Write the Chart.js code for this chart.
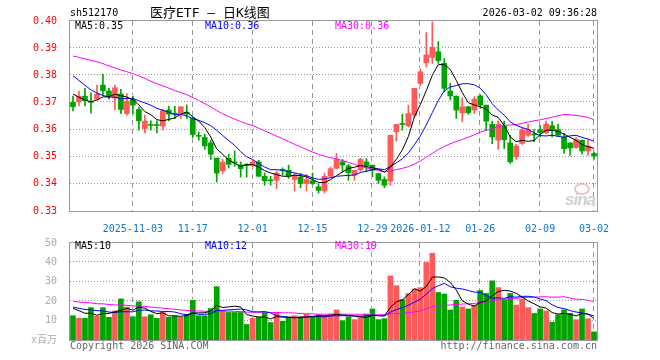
<!DOCTYPE html>
<html>
<head>
<meta charset="utf-8">
<title>医疗ETF 日K线图</title>
<script src="https://cdn.jsdelivr.net/npm/chart.js@4.4.1/dist/chart.umd.min.js"></script>
<style>
  html, body { margin: 0; padding: 0; background: #fff; }
  #wrap { position: relative; width: 660px; height: 360px; overflow: hidden;
          font-family: "DejaVu Sans Mono", "Noto Sans CJK SC", monospace; font-size: 10px; line-height: 12px; }
  #wrap canvas { position: absolute; left: 0; }
  #priceChart { top: 0; }
  #volChart   { top: 232px; }
  .txt { position: absolute; white-space: nowrap; }
  #code   { left: 70px; top: 7px; color: #000; }
  #title  { left: 150px; top: 5px; font-size: 13px; line-height: 15px; color: #000; }
  #stamp  { right: 63px; top: 7px; color: #000; }
  .ma5  { color: #000; }
  .ma10 { color: #0000ff; }
  .ma30 { color: #ff00ff; }
  #copy { left: 70px; top: 340px; color: #666; }
  #url  { right: 63px; top: 340px; color: #666; }
  #sina { left: 565px; top: 190px; font: italic bold 17px "Liberation Sans", sans-serif; color: #cfcfcf; letter-spacing: -1px; }
  #eye  { position: absolute; left: 574px; top: 183px; width: 12px; height: 8px; border: 2px solid rgba(235,140,140,0.55); border-radius: 50%; }
</style>
</head>
<body>
<div id="wrap">
  <canvas id="priceChart" width="660" height="232"></canvas>
  <canvas id="volChart" width="660" height="128"></canvas>

  <div class="txt" id="code">sh512170</div>
  <div class="txt" id="title">医疗ETF — 日K线图</div>
  <div class="txt" id="stamp">2026-03-02 09:36:28</div>

  <div class="txt ma5"  id="pMa5"  style="left:75px;top:20px"></div>
  <div class="txt ma10" id="pMa10" style="left:205px;top:20px"></div>
  <div class="txt ma30" id="pMa30" style="left:335px;top:20px"></div>

  <div class="txt ma5"  id="vMa5"  style="left:75px;top:240px"></div>
  <div class="txt ma10" id="vMa10" style="left:205px;top:240px"></div>
  <div class="txt ma30" id="vMa30" style="left:335px;top:240px"></div>

  <div id="eye"></div>
  <div class="txt" id="sina">sina</div>

  <div class="txt" id="copy">Copyright 2026 SINA.COM</div>
  <div class="txt" id="url">http://finance.sina.com.cn</div>
</div>

<script>
// ── Data ──────────────────────────────────────────────────────────────────────
const dates = [
  "2025-10-20","2025-10-21","2025-10-22","2025-10-23","2025-10-24",
  "2025-10-27","2025-10-28","2025-10-29","2025-10-30","2025-10-31",
  "2025-11-03","2025-11-04","2025-11-05","2025-11-06","2025-11-07",
  "2025-11-10","2025-11-11","2025-11-12","2025-11-13","2025-11-14",
  "2025-11-17","2025-11-18","2025-11-19","2025-11-20","2025-11-21",
  "2025-11-24","2025-11-25","2025-11-26","2025-11-27","2025-11-28",
  "2025-12-01","2025-12-02","2025-12-03","2025-12-04","2025-12-05",
  "2025-12-08","2025-12-09","2025-12-10","2025-12-11","2025-12-12",
  "2025-12-15","2025-12-16","2025-12-17","2025-12-18","2025-12-19",
  "2025-12-22","2025-12-23","2025-12-24","2025-12-25","2025-12-26",
  "2025-12-29","2025-12-30","2025-12-31",
  "2026-01-05","2026-01-06","2026-01-07","2026-01-08","2026-01-09",
  "2026-01-12","2026-01-13","2026-01-14","2026-01-15","2026-01-16",
  "2026-01-19","2026-01-20","2026-01-21","2026-01-22","2026-01-23",
  "2026-01-26","2026-01-27","2026-01-28","2026-01-29","2026-01-30",
  "2026-02-02","2026-02-03","2026-02-04","2026-02-05","2026-02-06",
  "2026-02-09","2026-02-10","2026-02-11","2026-02-12","2026-02-13",
  "2026-02-24","2026-02-25","2026-02-26","2026-02-27",
  "2026-03-02",
];

const openPx = [
  0.3701,0.3702,0.3723,0.3703,0.3712,0.3764,0.3742,0.3716,0.3731,0.3659,
  0.3711,0.3674,0.3604,0.3617,0.3617,0.3613,0.3672,0.3658,0.3657,0.3664,
  0.3641,0.3577,0.3571,0.3551,0.3495,0.3448,0.3494,0.3479,0.3469,0.3469,
  0.3469,0.3481,0.3428,0.3412,0.3413,0.3451,0.3450,0.3416,0.3425,0.3401,
  0.3411,0.3389,0.3374,0.3428,0.3457,0.3481,0.3466,0.3432,0.3452,0.3481,
  0.3469,0.3438,0.3416,0.3410,0.3592,0.3620,0.3614,0.3653,0.3770,0.3846,
  0.3866,0.3887,0.3844,0.3742,0.3723,0.3662,0.3684,0.3672,0.3724,0.3690,
  0.3619,0.3561,0.3613,0.3551,0.3500,0.3549,0.3579,0.3581,0.3600,0.3588,
  0.3614,0.3600,0.3573,0.3551,0.3534,0.3561,0.3521,0.3512,
];
const highPx = [
  0.3723,0.3742,0.3752,0.3735,0.3764,0.3804,0.3752,0.3764,0.3748,0.3733,
  0.3723,0.3683,0.3653,0.3632,0.3632,0.3674,0.3686,0.3686,0.3684,0.3690,
  0.3645,0.3591,0.3583,0.3561,0.3495,0.3490,0.3509,0.3521,0.3481,0.3475,
  0.3487,0.3487,0.3440,0.3428,0.3448,0.3459,0.3469,0.3438,0.3438,0.3435,
  0.3440,0.3401,0.3440,0.3462,0.3512,0.3490,0.3472,0.3450,0.3494,0.3493,
  0.3469,0.3438,0.3426,0.3579,0.3619,0.3656,0.3690,0.3752,0.3823,0.3957,
  0.3997,0.3924,0.3862,0.3770,0.3724,0.3717,0.3686,0.3721,0.3729,0.3690,
  0.3631,0.3632,0.3631,0.3579,0.3546,0.3605,0.3620,0.3600,0.3616,0.3631,
  0.3630,0.3620,0.3585,0.3551,0.3571,0.3561,0.3563,0.3518,
];
const lowPx = [
  0.3669,0.3687,0.3687,0.3660,0.3712,0.3727,0.3712,0.3672,0.3659,0.3653,
  0.3657,0.3598,0.3588,0.3598,0.3588,0.3598,0.3632,0.3641,0.3641,0.3641,
  0.3571,0.3561,0.3527,0.3490,0.3407,0.3438,0.3458,0.3465,0.3425,0.3425,
  0.3462,0.3428,0.3395,0.3395,0.3383,0.3432,0.3420,0.3374,0.3386,0.3374,
  0.3395,0.3366,0.3366,0.3425,0.3457,0.3444,0.3413,0.3413,0.3446,0.3444,
  0.3425,0.3401,0.3386,0.3395,0.3557,0.3598,0.3610,0.3645,0.3761,0.3831,
  0.3844,0.3844,0.3739,0.3709,0.3641,0.3630,0.3656,0.3660,0.3678,0.3598,
  0.3548,0.3527,0.3530,0.3475,0.3490,0.3545,0.3575,0.3555,0.3573,0.3585,
  0.3573,0.3575,0.3512,0.3505,0.3531,0.3509,0.3505,0.3490,
];
const closePx = [
  0.3684,0.3723,0.3706,0.3700,0.3730,0.3743,0.3724,0.3754,0.3674,0.3705,
  0.3690,0.3632,0.3631,0.3615,0.3615,0.3669,0.3657,0.3657,0.3684,0.3657,
  0.3582,0.3575,0.3540,0.3509,0.3440,0.3480,0.3472,0.3477,0.3456,0.3468,
  0.3481,0.3428,0.3411,0.3411,0.3440,0.3450,0.3428,0.3432,0.3401,0.3416,
  0.3401,0.3376,0.3428,0.3456,0.3490,0.3469,0.3441,0.3450,0.3490,0.3467,
  0.3450,0.3413,0.3395,0.3579,0.3619,0.3619,0.3659,0.3752,0.3813,0.3875,
  0.3903,0.3854,0.3752,0.3724,0.3672,0.3684,0.3662,0.3712,0.3690,0.3631,
  0.3573,0.3620,0.3563,0.3481,0.3539,0.3600,0.3600,0.3580,0.3589,0.3620,
  0.3598,0.3579,0.3530,0.3532,0.3563,0.3521,0.3539,0.3502,
];
// volume in millions of shares (x百万)
const volume = [
  12.5,11.2,11.2,16.7,12.3,16.7,11.7,15.0,21.2,17.0,
  12.0,19.7,12.0,13.0,11.2,14.2,11.7,12.3,11.7,13.0,
  20.5,12.5,12.5,16.2,27.5,15.0,14.2,14.2,14.2, 8.0,
  11.2,11.7,14.2, 9.0,14.2, 9.7,11.7,12.5,11.7,13.3,
  11.7,13.0,12.5,13.3,15.5,10.0,12.0,10.5,12.0,13.3,
  16.0,10.5,11.0,33.0,28.0,20.8,24.0,26.3,27.0,40.0,
  44.7,24.5,23.7,15.5,20.5,17.0,16.0,18.0,25.5,24.0,
  30.5,27.0,20.8,24.0,18.0,21.0,16.7,13.7,16.0,15.0,
   9.2,13.0,15.5,13.7,10.5,16.0,11.0, 4.2,
];

// 29 sessions before the window, read back from where the MA lines enter the chart
const prevClose = [
  0.386,0.388,0.387,0.388,0.395,0.398,0.396,0.392,0.389,0.390,
  0.389,0.391,0.392,0.389,0.390,0.391,0.393,0.390,0.389,0.391,
  0.390,0.388,0.387,0.385,0.383,0.378,0.376,0.373,0.370,
];
const prevVolume = [
  24,19,22,26,18,21,23,20,25,19,
  22,18,24,21,20,23,19,22,20,24,
  18,17,19,16,18.5,17,18,16.5,17.5,
];

const tickDates  = ["2025-11-03","2025-11-17","2025-12-01","2025-12-15","2025-12-29",
                    "2026-01-12","2026-01-26","2026-02-09","2026-03-02"];
const tickLabels = ["2025-11-03","11-17","12-01","12-15","12-29",
                    "2026-01-12","01-26","02-09","03-02"];

const priceMaNow = ["0.35", "0.36", "0.36"];   // MA5 / MA10 / MA30 readouts
const volMaNow   = ["10", "12", "19"];

// ── Style ─────────────────────────────────────────────────────────────────────
const UP_COLOR   = "#ff5a5a";
const DOWN_COLOR = "#00a400";
const GRID_RGB   = [150, 150, 150];
const BOX_COLOR  = "#999999";
const MONO = '"DejaVu Sans Mono", "Noto Sans CJK SC", monospace';
const MA_COLORS = { 5: "#000000", 10: "#0000ff", 30: "#ff00ff" };

// ── Helpers ───────────────────────────────────────────────────────────────────
function movingAvg(prev, vals, n) {
  const all = prev.concat(vals);
  return vals.map((_, i) => {
    const end = prev.length + i;
    let s = 0;
    for (let k = end - n + 1; k <= end; k++) s += all[k];
    return s / n;
  });
}

const candleColor = closePx.map((c, i) => (c >= openPx[i] ? UP_COLOR : DOWN_COLOR));
const tickIdx     = tickDates.map((d) => dates.indexOf(d));
const labelAt     = {};
tickIdx.forEach((idx, k) => { labelAt[idx] = tickLabels[k]; });

function maLine(values, n) {
  return {
    type: "line", data: values, order: 0,
    borderColor: MA_COLORS[n], borderWidth: 1,
    pointRadius: 0, tension: 0, fill: false,
  };
}

// After everything is drawn: dashed date lines and dotted value lines go only on
// still-empty pixels (so they sit behind the marks), then the gray box.
const gridPlugin = {
  id: "gridBox",
  afterDraw(chart) {
    const ctx = chart.ctx;
    const a  = chart.chartArea;
    const xs = chart.scales.x;
    const ys = chart.scales.y;
    const x0 = Math.round(a.left), x1 = Math.round(a.right);
    const y0 = Math.round(a.top),  y1 = Math.round(a.bottom);
    const w = x1 - x0, h = y1 - y0;

    const img = ctx.getImageData(x0, y0, w, h);
    const d = img.data;
    const dot = (x, y) => {
      const px = x - x0, py = y - y0;
      if (px < 0 || py < 0 || px >= w || py >= h) return;
      const k = (py * w + px) * 4;
      const empty = d[k + 3] < 20 || (d[k] > 240 && d[k + 1] > 240 && d[k + 2] > 240);
      if (!empty) return;
      d[k] = GRID_RGB[0]; d[k + 1] = GRID_RGB[1]; d[k + 2] = GRID_RGB[2]; d[k + 3] = 255;
    };

    tickIdx.forEach((i) => {
      const x = Math.round(xs.getPixelForValue(i)) - 1;
      for (let y = y0; y < y1; y++) if ((y - y0) % 9 < 5) dot(x, y);
    });
    ys.ticks.forEach((t) => {
      const y = Math.round(ys.getPixelForValue(t.value)) - 1;
      if (y <= y0 + 1 || y >= y1 - 1) return;
      for (let x = x0; x < x1; x += 3) dot(x, y);
    });
    ctx.putImageData(img, x0, y0);

    ctx.save();
    ctx.setTransform(1, 0, 0, 1, 0, 0);
    ctx.strokeStyle = BOX_COLOR;
    ctx.lineWidth = 1;
    ctx.strokeRect(x0 - 0.5, y0 - 0.5, w + 1, h + 1);
    ctx.restore();
  },
};

function xScale(showLabels, height) {
  return {
    type: "category",
    offset: true,
    afterBuildTicks: (s) => { s.ticks = tickIdx.map((v) => ({ value: v })); },
    afterFit: (s) => { s.height = height; },
    grid: { display: false },
    border: { display: false },
    ticks: {
      display: showLabels, autoSkip: false, maxRotation: 0, padding: 4,
      color: "#0a78d0", font: { family: MONO, size: 10 },
      callback: (v) => labelAt[v] || "",
    },
  };
}

function yScale(min, max, step, color, fmt) {
  return {
    min, max,
    afterFit: (s) => { s.width = 70; },
    grid: { display: false },
    border: { display: false },
    ticks: { stepSize: step, padding: 5, color, font: { family: MONO, size: 10 }, callback: fmt },
  };
}

const baseOptions = {
  responsive: false,
  animation: false,
  events: [],
  plugins: { legend: { display: false }, tooltip: { enabled: false } },
};

// ── Price chart ───────────────────────────────────────────────────────────────
const ma5  = movingAvg(prevClose, closePx, 5);
const ma10 = movingAvg(prevClose, closePx, 10);
const ma30 = movingAvg(prevClose, closePx, 30);

new Chart(document.getElementById("priceChart"), {
  type: "bar",
  data: {
    labels: dates,
    datasets: [
      maLine(ma5, 5),
      maLine(ma10, 10),
      maLine(ma30, 30),
      {
        data: openPx.map((o, i) => [o, closePx[i]]), order: 1, grouped: false,
        backgroundColor: candleColor, barThickness: 5, minBarLength: 1, borderWidth: 0,
      },
      {
        data: lowPx.map((l, i) => [l, highPx[i]]), order: 2, grouped: false,
        backgroundColor: candleColor, barThickness: 1, borderWidth: 0,
      },
    ],
  },
  options: {
    ...baseOptions,
    layout: { padding: { top: 21, right: 63, left: 0, bottom: 0 } },
    scales: {
      x: xScale(true, 21),
      y: yScale(0.33, 0.40, 0.01, "#ff0000", (v) => Number(v).toFixed(2)),
    },
  },
  plugins: [gridPlugin],
});

// ── Volume chart ──────────────────────────────────────────────────────────────
const vma5  = movingAvg(prevVolume, volume, 5);
const vma10 = movingAvg(prevVolume, volume, 10);
const vma30 = movingAvg(prevVolume, volume, 30);

new Chart(document.getElementById("volChart"), {
  type: "bar",
  data: {
    labels: dates,
    datasets: [
      maLine(vma5, 5),
      maLine(vma10, 10),
      maLine(vma30, 30),
      {
        data: volume, order: 1, grouped: false,
        backgroundColor: candleColor, barThickness: 5, borderWidth: 0,
      },
    ],
  },
  options: {
    ...baseOptions,
    layout: { padding: { top: 8, right: 63, left: 0, bottom: 0 } },
    scales: {
      x: xScale(false, 20),
      y: yScale(0, 50, 10, "#aaaaaa", (v) => (v === 0 ? "x百万" : v)),
    },
  },
  plugins: [gridPlugin],
});

// ── Readouts ──────────────────────────────────────────────────────────────────
["pMa5", "pMa10", "pMa30"].forEach((id, k) => {
  document.getElementById(id).textContent = `MA${[5, 10, 30][k]}:${priceMaNow[k]}`;
});
["vMa5", "vMa10", "vMa30"].forEach((id, k) => {
  document.getElementById(id).textContent = `MA${[5, 10, 30][k]}:${volMaNow[k]}`;
});
</script>
</body>
</html>
